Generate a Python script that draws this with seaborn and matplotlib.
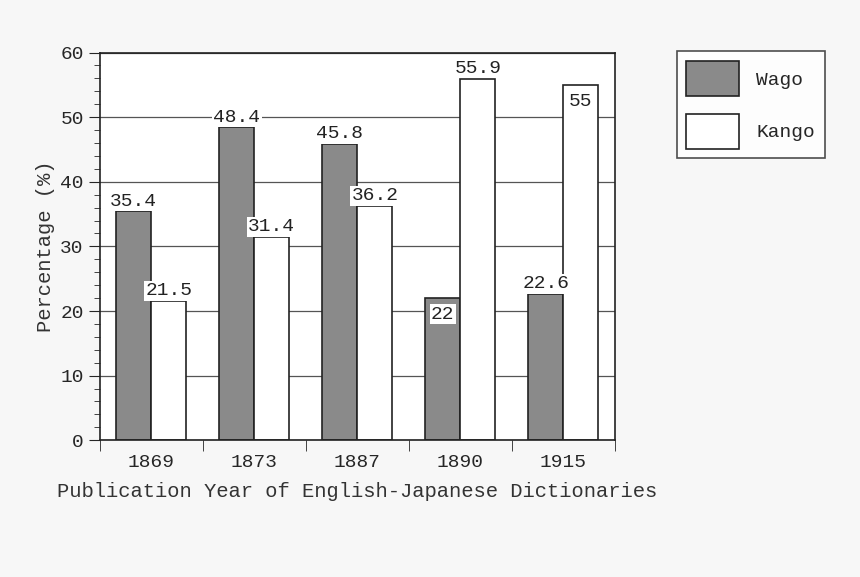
import seaborn as sns
import matplotlib.pyplot as plt
import pandas as pd
from matplotlib.ticker import MultipleLocator

years = ['1869', '1873', '1887', '1890', '1915']
wago = [35.4, 48.4, 45.8, 22, 22.6]
kango = [21.5, 31.4, 36.2, 55.9, 55]
wago_txt = ['35.4', '48.4', '45.8', '22', '22.6']
kango_txt = ['21.5', '31.4', '36.2', '55.9', '55']

df = pd.DataFrame({'year': years * 2, 'value': wago + kango,
                   'kind': ['Wago'] * 5 + ['Kango'] * 5})

sns.set_style('white')
plt.rcParams['font.family'] = ['Liberation Mono', 'DejaVu Sans Mono']

fig = plt.figure(figsize=(8.6, 5.77), dpi=100, facecolor='#f7f7f7')
ax = fig.add_axes([0.116, 0.237, 0.599, 0.672])
ax.set_facecolor('white')
ax.set_axisbelow(True)
ax.yaxis.grid(True, color='#555555', lw=0.9)

sns.barplot(data=df, x='year', y='value', hue='kind', ax=ax,
            palette={'Wago': '#8a8a8a', 'Kango': 'white'},
            edgecolor='#222222', linewidth=1.2, width=0.68, saturation=1)

inside = {('Wago', 3), ('Kango', 4)}
for cont, kind, txts in zip(ax.containers, ['Wago', 'Kango'], [wago_txt, kango_txt]):
    for i, (bar, t) in enumerate(zip(cont, txts)):
        x = bar.get_x() + bar.get_width() / 2
        h = bar.get_height()
        if (kind, i) in inside:
            y, va = h - 1.2, 'top'
        else:
            y, va = h + 0.3, 'bottom'
        ax.text(x, y, t, ha='center', va=va, fontsize=14, color='#222222',
                bbox=dict(facecolor='white', edgecolor='none', pad=1))

ax.set_ylim(0, 60)
ax.set_xlim(-0.5, 4.5)
ax.yaxis.set_major_locator(MultipleLocator(10))
ax.yaxis.set_minor_locator(MultipleLocator(2))
ax.set_xticks([-0.5, 0.5, 1.5, 2.5, 3.5, 4.5], minor=True)
ax.tick_params(axis='x', which='major', length=0, labelsize=14, pad=10)
ax.tick_params(axis='x', which='minor', length=8, direction='out', bottom=True)
ax.tick_params(axis='y', which='major', length=8, labelsize=14, left=True)
ax.tick_params(axis='y', which='minor', length=4, left=True)
for s in ax.spines.values():
    s.set_color('#222222')
    s.set_linewidth(1.2)
ax.set_xlabel('Publication Year of English-Japanese Dictionaries', fontsize=14.8,
              color='#333333', labelpad=8)
ax.set_ylabel('Percentage (%)', fontsize=14.8, color='#333333')

leg = ax.legend(loc='upper left', bbox_to_anchor=(1.12, 1.003), frameon=True,
                fancybox=False, edgecolor='#222222', fontsize=14,
                handlelength=2.7, handleheight=2.4, borderpad=0.5,
                labelspacing=0.9, handletextpad=0.9, borderaxespad=0)
leg.get_frame().set_linewidth(1.2)

fig.savefig('out.png', dpi=100, facecolor=fig.get_facecolor())
